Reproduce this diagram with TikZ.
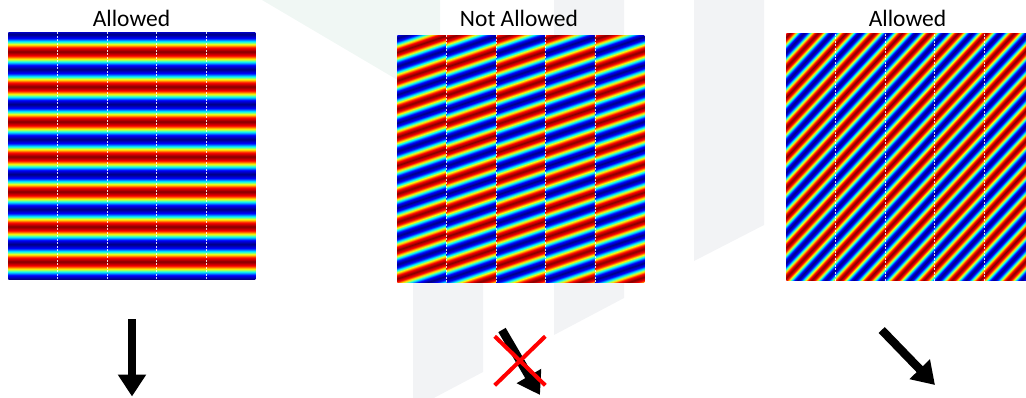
\documentclass[tikz,border=0pt]{standalone}
\usepackage{fontspec}
\setmainfont{Carlito}
\usetikzlibrary{arrows.meta,shapes.misc}
\definecolor{jetA}{rgb}{0,0,0.5}
\definecolor{jetB}{rgb}{0,0,1}
\definecolor{jetC}{rgb}{0,1,1}
\definecolor{jetG}{rgb}{0.5,1,0.5}
\definecolor{jetD}{rgb}{1,1,0}
\definecolor{jetE}{rgb}{1,0,0}
\definecolor{jetF}{rgb}{0.5,0,0}
\definecolor{wmteal}{HTML}{F0F7F4}
\definecolor{wmgray}{HTML}{F2F3F5}

% jet colour stops of one period (phase in degrees)
\def\jetstops{41.4/jetB,75.5/jetC,90/jetG,104.5/jetD,138.6/jetE,180/jetF,221.4/jetE,255.5/jetD,270/jetG,284.5/jetC,318.6/jetB,360/jetA}
\newcommand\makejet[3]{% name, period, number of periods
  \gdef\jetspec{color(0pt)=(jetA)}%
  \foreach \k in {1,...,#3}{%
    \foreach \ang/\jc in \jetstops{%
      \pgfmathsetmacro\jpos{(\k-1+\ang/360)*#2}%
      \xdef\jetspec{\jetspec; color(\jpos pt)=(\jc)}}}%
  \edef\jetdo{\noexpand\pgfdeclareverticalshading{#1}{600pt}{\jetspec}}\jetdo}
\makejet{jetflat}{35}{18}
\makejet{jetslant}{26.8}{22}
\makejet{jetdiag}{20.5}{30}

\begin{document}
\begin{tikzpicture}[
  x=1pt, y=-1pt,
  panel/.style={minimum width=247pt, minimum height=247pt, inner sep=0pt, outer sep=0pt},
  title/.style={font=\fontsize{23.5}{28}\selectfont, anchor=base, inner sep=0pt},
  colsep/.style={white, line width=0.8pt, dash pattern=on 2pt off 1.5pt, opacity=0.85},
  karrow/.style={-{Triangle[length=22pt,width=27pt]}, line width=8.5pt},
  nogo/.style={cross out, draw=red, line width=4pt, minimum width=46.6pt,
    minimum height=45pt, inner sep=0pt},
]
  \useasboundingbox (0,0) rectangle (1026,397);

  %% ---- Watermark ----
  \fill[wmteal] (262,0) -- (440,0) -- (440,105) -- cycle;
  \fill[wmgray] (413,35) -- (483,35) -- (483,372) -- (413,409) -- cycle;
  \fill[wmgray] (554,0) -- (624,0) -- (624,298) -- (554,335) -- cycle;
  \fill[wmgray] (694,0) -- (764,0) -- (764,225) -- (694,261) -- cycle;

  %% ---- Panels ----
  \node[panel] (p1) at (131.8,155.8) {};
  \node[panel] (p2) at (520.8,158.5) {};
  \node[panel] (p3) at (909.9,157) {};

  \begin{scope}
    \clip (p1.south west) rectangle (p1.north east);
    \node[inner sep=0pt] (sh1) at (131.8,139.2) {\pgfuseshading{jetflat}};
  \end{scope}
  \foreach \j/\ry in {0/52,1/38.3,2/39.3,3/39,4/39}{
    \begin{scope}
      \clip (397.3+49.4*\j,35) rectangle (446.7+49.4*\j,282);
      \node[inner sep=0pt, rotate=18.7] (sh2\j) at (397.3+49.4*\j,\ry+127.35)
        {\pgfuseshading{jetslant}};
    \end{scope}
  }
  \begin{scope}
    \clip (p3.south west) rectangle (p3.north east);
    \node[inner sep=0pt, rotate=47] (sh3) at (898.4,172) {\pgfuseshading{jetdiag}};
  \end{scope}

  %% ---- Column borders ----
  \foreach \xl/\yt in {8.3/32.3,397.3/35,786.4/33.5}
    \foreach \k in {1,...,4}
      \draw[colsep] (\xl+49.4*\k,\yt) -- (\xl+49.4*\k,\yt+247);

  %% ---- Titles ----
  \node[title] (t1) at (131.5,26) {Allowed};
  \node[title] (t2) at (519,26) {Not Allowed};
  \node[title] (t3) at (907.5,26) {Allowed};

  %% ---- Wave vectors ----
  \coordinate (k1a) at (132,319);   \coordinate (k1b) at (132,396.5);
  \coordinate (k2a) at (502,330);   \coordinate (k2b) at (540,395);
  \coordinate (k3a) at (881.7,330); \coordinate (k3b) at (935,385);
  \draw[karrow] (k1a) -- (k1b);
  \draw[karrow] (k2a) -- (k2b);
  \draw[karrow] (k3a) -- (k3b);
  \node[nogo] (veto) at (520,360.8) {};

\end{tikzpicture}
\end{document}
